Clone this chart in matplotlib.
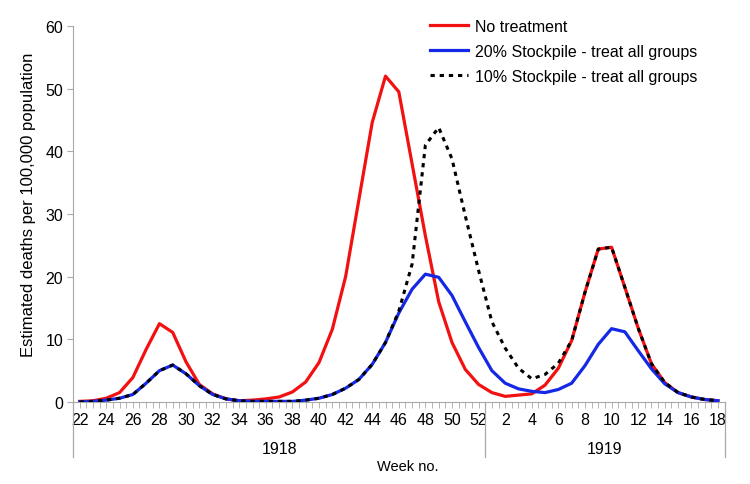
import matplotlib
matplotlib.use("Agg")
import matplotlib.pyplot as plt
import matplotlib.transforms as mtransforms
import numpy as np

plt.rcParams["font.family"] = ["Liberation Sans", "DejaVu Sans"]

# ── Data ─────────────────────────────────────────────────────────────────────
weeks = list(range(22, 53)) + list(range(1, 19))
years = [("1918", 0, 30), ("1919", 31, 48)]

no_treatment = [
    0.1, 0.2, 0.6, 1.5, 3.9, 8.4, 12.5, 11.1, 6.4, 2.8, 1.3, 0.5, 0.2, 0.3, 0.5, 0.8,
    1.6, 3.2, 6.3, 11.6, 20.0, 32.3, 44.6, 52.0, 49.5, 38.0, 26.5, 16.0, 9.5, 5.2, 2.8,
    1.5, 0.9, 1.1, 1.3, 2.7, 5.4, 9.8, 17.5, 24.4, 24.7, 18.3, 11.8, 6.1, 3.1, 1.5, 0.8, 0.4, 0.2,
]
stock20 = [
    0.0, 0.1, 0.3, 0.6, 1.2, 3.0, 5.0, 5.9, 4.5, 2.6, 1.2, 0.5, 0.2, 0.1, 0.1, 0.1,
    0.1, 0.3, 0.6, 1.2, 2.2, 3.6, 6.0, 9.5, 14.2, 18.0, 20.4, 19.9, 17.0, 12.8, 8.7,
    5.0, 3.0, 2.1, 1.7, 1.5, 2.0, 3.0, 5.8, 9.2, 11.7, 11.2, 8.2, 5.3, 2.9, 1.5, 0.8, 0.4, 0.2,
]
stock10 = [
    0.0, 0.1, 0.3, 0.6, 1.2, 3.0, 5.0, 5.9, 4.5, 2.6, 1.2, 0.5, 0.2, 0.1, 0.1, 0.1,
    0.1, 0.3, 0.6, 1.2, 2.2, 3.6, 6.0, 9.5, 14.5, 22.0, 41.0, 43.8, 38.8, 29.7, 21.0,
    12.8, 8.6, 5.4, 3.7, 4.4, 6.2, 9.8, 17.5, 24.4, 24.7, 18.3, 11.8, 6.1, 3.1, 1.5, 0.8, 0.4, 0.2,
]

GRAY = "#A8A8A8"

# ── Figure ───────────────────────────────────────────────────────────────────
fig = plt.figure(figsize=(7.5, 4.85), dpi=100)
ax = fig.add_axes([73 / 750, 1 - 403 / 485, 651.6 / 750, 376 / 485])

x = np.arange(len(weeks))
ax.plot(x, no_treatment, color="#F21010", lw=2.3, label="No treatment", zorder=3)
ax.plot(x, stock20, color="#1428E6", lw=2.3, label="20% Stockpile - treat all groups", zorder=4)
ax.plot(x, stock10, color="black", lw=2.2, ls=(0, (1.4, 1.6)),
        label="10% Stockpile - treat all groups", zorder=5)

ax.set_xlim(-0.5, len(weeks) - 0.5)
ax.set_ylim(0, 60)
ax.set_yticks(range(0, 61, 10))

# week labels every 2 weeks, small ticks every half week
ax.set_xticks(x[::2])
ax.set_xticklabels([str(w) for w in weeks[::2]])
ax.set_xticks(np.arange(-0.5, len(weeks), 0.5), minor=True)
ax.xaxis.remove_overlapping_locs = False
ax.tick_params(axis="x", which="major", length=0, pad=7, labelsize=11.5)
ax.tick_params(axis="x", which="minor", length=4, color=GRAY, direction="out")
ax.tick_params(axis="y", length=4, color=GRAY, labelsize=11.5, pad=3)

ax.spines[["top", "right"]].set_visible(False)
ax.spines[["left", "bottom"]].set_color(GRAY)

ax.set_ylabel("Estimated deaths per 100,000 population", fontsize=12, va="center")
ax.yaxis.set_label_coords(-44 / 651.6, (403 - 205) / 376)

# year groups under the week axis
trans = mtransforms.blended_transform_factory(ax.transData, ax.transAxes)
for name, i0, i1 in years:
    ax.text((i0 + i1) / 2, -0.125, name, transform=trans, ha="center", va="center", fontsize=11.5)
for sep in [-0.5, 30.5, len(weeks) - 0.5]:
    ax.plot([sep, sep], [0, -0.145], transform=trans, color=GRAY, lw=0.9, clip_on=False)
ax.text(0.514, -0.170, "Week no.", transform=ax.transAxes, ha="center", va="center", fontsize=10.5)

ax.legend(loc="upper left", bbox_to_anchor=(430 / 750, 1 - 20 / 485),
          bbox_transform=fig.transFigure, frameon=False, fontsize=11.5,
          handlelength=2.4, handletextpad=0.4, labelspacing=0.62,
          borderpad=0, borderaxespad=0)

fig.savefig("out.png", dpi=100)
